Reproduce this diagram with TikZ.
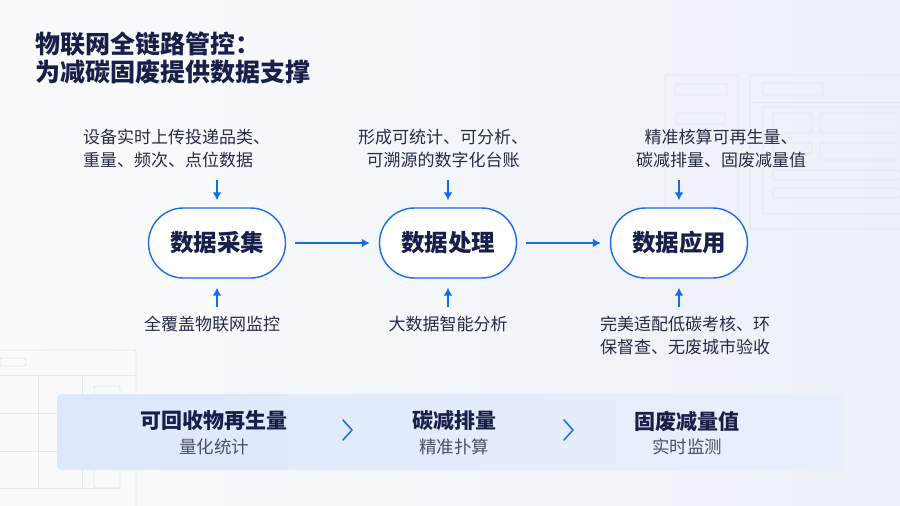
\documentclass[tikz,border=0pt]{standalone}
\usepackage{fontspec}
\setmainfont{Noto Sans CJK SC}
\usepackage{tikz}
\usetikzlibrary{arrows.meta, positioning, calc}

\definecolor{titlecol}{HTML}{18204A}
\definecolor{textcol}{HTML}{262C46}
\definecolor{subcol}{HTML}{4A5066}
\definecolor{bluecol}{HTML}{1A6BE6}
\definecolor{wirecol}{HTML}{E2E7EE}
\definecolor{bgleft}{HTML}{FAFBFC}
\definecolor{bgright}{HTML}{ECF1F8}
\definecolor{bandleft}{HTML}{DCE9FC}
\definecolor{bandright}{HTML}{E8F0FB}

\begin{document}
\begin{tikzpicture}[
			x=1pt, y=-1pt,
			>={Latex[length=8pt, width=9pt]},
			stage/.style={draw=bluecol, line width=1.4pt, fill=white, rounded corners=35pt, minimum width=137pt, minimum height=70pt, font=\fontsize{23.5}{28}\selectfont\bfseries, text=titlecol},
			note/.style={inner sep=0pt, font=\fontsize{17}{23}\selectfont, text=textcol},
			flow/.style={->, draw=bluecol, line width=1.8pt},
			wire/.style={draw=wirecol, line width=0.8pt, rounded corners=2pt},
			metric/.style={inner sep=0pt, font=\fontsize{21}{25}\selectfont\bfseries, text=titlecol},
			metricsub/.style={inner sep=0pt, font=\fontsize{17.5}{21}\selectfont, text=subcol},
			chev/.style={draw=bluecol, line width=1.5pt, line cap=round, line join=round}
			]
			% --- Tło i ramka obrazu ---
			\shade[left color=bgleft, right color=bgright] (0,0) rectangle (900,506);
			\useasboundingbox (0,0) rectangle (900,506);
			
			% --- Dekoracyjne okna w tle ---
			\draw[wire] (665,75) rectangle (738,240);
			\draw[wire] (675,84) rectangle (727,95);
			\draw[wire] (676,113) rectangle (725,124);
			\draw[wire] (750,75) rectangle (905,229);
			\draw[wire] (763,83) rectangle (823,95);
			\draw[wire] (750,102) -- (905,102);
			\draw[wire] (763,107) rectangle (905,214);
			\draw[wire] (773,113) rectangle (812,133);
			\draw[wire] (820,113) rectangle (898,133);
			\draw[wire] (773,143) rectangle (812,153);
			\draw[wire] (820,143) rectangle (898,160);
			\draw[wire] (773,170) rectangle (900,180);
			\draw[wire] (773,188) rectangle (900,198);
			\draw[wire] (-5,350) rectangle (136,515);
			\draw[wire] (0,358) rectangle (26,366);
			\draw[wire] (0,375) -- (136,375);
			\draw[wire] (38,375) -- (38,488);
			\draw[wire] (82,375) -- (82,488);
			\draw[wire] (0,413) -- (136,413);
			\draw[wire] (0,451) -- (136,451);
			\draw[wire] (94,386) rectangle (120,488);
			\draw[wire] (0,488) -- (120,488);
			
			% --- Tytuł ---
			\node[anchor=north west, inner sep=0pt, align=left, font=\fontsize{25}{28}\selectfont\bfseries, text=titlecol] (title) at (35,32) {物联网全链路管控：\\为减碳固废提供数据支撑};
			
			% --- Etapy przepływu danych ---
			\node[stage] (collect) at (217,243) {数据采集};
			\node[stage] (process) at (448,243) {数据处理};
			\node[stage] (apply) at (679,243) {数据应用};
			
			\draw[flow, shorten <=9pt, shorten >=9pt] (collect) -- (process);
			\draw[flow, shorten <=9pt, shorten >=9pt] (process) -- (apply);
			
			% --- Opisy nad etapami ---
			\node[note, anchor=south west, align=left] (collectin) at (83,168) {设备实时上传投递品类、\\重量、频次、点位数据};
			\node[note, anchor=south, align=center] (processin) at (443,168) {形成可统计、可分析、\\可溯源的数字化台账};
			\node[note, anchor=south, align=center] (applyin) at (721,168) {精准核算可再生量、\\碳减排量、固废减量值};
			
			\draw[flow, shorten <=12pt, shorten >=7pt] (collect.north |- collectin.south) -- (collect.north);
			\draw[flow, shorten <=12pt, shorten >=7pt] (process.north |- processin.south) -- (process.north);
			\draw[flow, shorten <=12pt, shorten >=7pt] (apply.north |- applyin.south) -- (apply.north);
			
			% --- Opisy pod etapami ---
			\node[note, anchor=north, align=center] (collectout) at (212,316) {全覆盖物联网监控};
			\node[note, anchor=north, align=center] (processout) at (448,316) {大数据智能分析};
			\node[note, anchor=north, align=center] (applyout) at (685,316) {完美适配低碳考核、环\\保督查、无废城市验收};
			
			\draw[flow, shorten <=9pt, shorten >=9pt] (collect.south |- collectout.north) -- (collect.south);
			\draw[flow, shorten <=9pt, shorten >=9pt] (process.south |- processout.north) -- (process.south);
			\draw[flow, shorten <=9pt, shorten >=9pt] (apply.south |- applyout.north) -- (apply.south);
			
			% --- Pasek wyników ---
			\shade[left color=bandleft, right color=bandright, rounded corners=5pt] (57,394) rectangle (843,470);
			\node[metric] (recycle) at (214,421) {可回收物再生量};
			\node[metricsub, below=7pt of recycle] (recyclesub) {量化统计};
			\node[metric] (carbon) at (454,421) {碳减排量};
			\node[metricsub, below=7pt of carbon] (carbonsub) {精准扑算};
			\node[metric] (solid) at (687,421) {固废减量值};
			\node[metricsub, below=7pt of solid] (solidsub) {实时监测};
			
			\coordinate (chevA) at (347.5,430);
			\coordinate (chevB) at (568.5,430);
			\draw[chev] ([shift={(-4.5,-10)}]chevA) -- ++(9,10) -- ++(-9,10);
			\draw[chev] ([shift={(-4.5,-10)}]chevB) -- ++(9,10) -- ++(-9,10);
			
		\end{tikzpicture}
\end{document}
